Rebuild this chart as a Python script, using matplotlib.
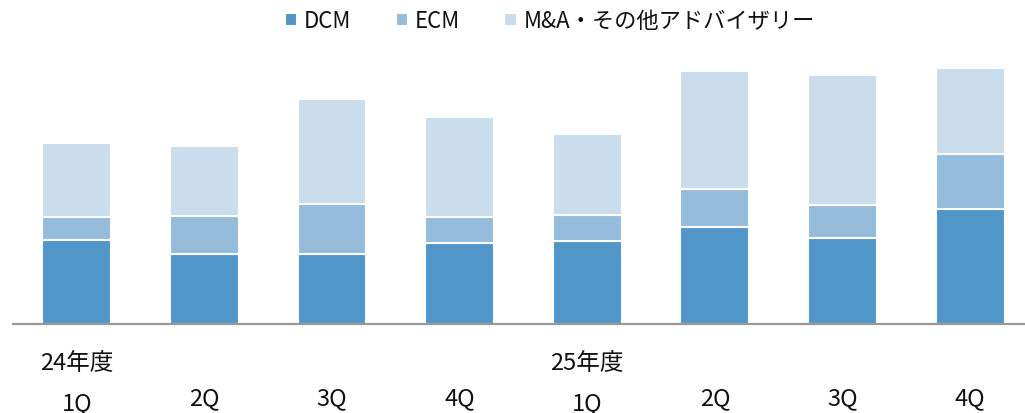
import numpy as np
import matplotlib
matplotlib.use("Agg")
import matplotlib.pyplot as plt
import matplotlib.transforms as mtransforms

plt.rcParams['font.family'] = ['Noto Sans CJK JP', 'DejaVu Sans']

quarters = ['1Q', '2Q', '3Q', '4Q', '1Q', '2Q', '3Q', '4Q']
years = ['24年度', '', '', '', '25年度', '', '', '']
dcm = [84, 70, 70, 81, 83, 97, 86, 115]
ecm = [23, 38, 50, 26, 26, 38, 33, 55]
ma_other = [74, 70, 105, 100, 81, 118, 130, 86]
series_names = ['DCM', 'ECM', 'M&A・その他アドバイザリー']
colors = ['#5096C8', '#95BCDA', '#C9DDED']

fig = plt.figure(figsize=(10.25, 4.14), dpi=100)
ax = fig.add_axes([13 / 1025, 89 / 414, 1 - 13 / 1025, 275 / 414])

x = np.arange(len(quarters))
bottom = np.zeros(len(quarters))
for vals, name, c in zip([dcm, ecm, ma_other], series_names, colors):
    ax.bar(x, vals, width=0.54, bottom=bottom, color=c, edgecolor='white',
           linewidth=1.5, label=name)
    bottom += np.array(vals)

ax.set_xlim(-0.5, 7.43)
ax.set_ylim(0, 275)
for s in ['top', 'left', 'right']:
    ax.spines[s].set_visible(False)
ax.spines['bottom'].set_color('#999999')
ax.spines['bottom'].set_linewidth(1.6)
ax.set_xticks([])
ax.set_yticks([])

trans = mtransforms.blended_transform_factory(ax.transData, fig.transFigure)
for i, (q, yr) in enumerate(zip(quarters, years)):
    if yr:
        ax.text(i, 1 - 364 / 414, yr, transform=trans, ha='center', va='center',
                fontsize=17, color='#111111')
        ax.text(i, 1 - 404 / 414, q, transform=trans, ha='center', va='center',
                fontsize=17, color='#111111')
    else:
        ax.text(i, 1 - 399 / 414, q, transform=trans, ha='center', va='center',
                fontsize=17, color='#111111')

fig.legend(loc='center left', bbox_to_anchor=(274 / 1025, 1 - 22 / 414), ncol=3,
           frameon=False, fontsize=16, handlelength=0.55, handleheight=0.55,
           handletextpad=0.3, columnspacing=2.0, borderpad=0,
           labelcolor='#111111')

fig.savefig('out.png', dpi=100)
